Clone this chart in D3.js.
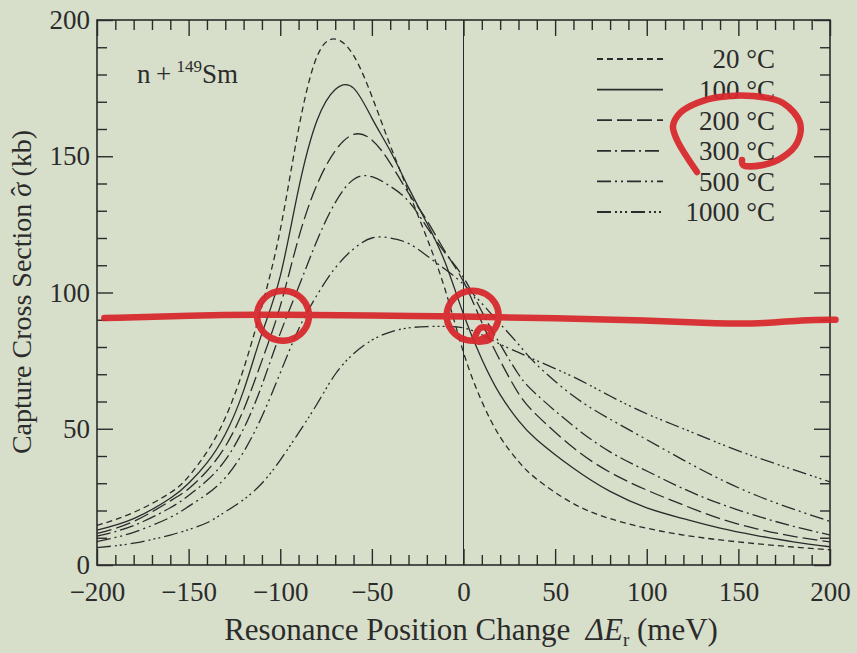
<!DOCTYPE html>
<html>
<head>
<meta charset="utf-8">
<script src="https://cdn.jsdelivr.net/npm/d3@7"></script>
<style>
body { margin: 0; background: #d7dfca; }
svg { display: block; font-family: "Liberation Serif", "Times New Roman", serif; }
</style>
</head>
<body>
<div id="chart"></div>
<script>
// resonance position change (meV)
var energies = [-200, -180, -160, -150, -140, -130, -120, -110, -100, -90, -80, -70, -60, -50, -40,
    -30, -20, -10, 0, 10, 20, 30, 40, 60, 80, 100, 120, 140, 160, 180, 200];
// capture cross section (kb), one array per temperature
var sigma20 = [14.5, 19.3, 26.5, 32.5, 41.5, 54, 72, 95, 123, 160, 186.5, 193, 187, 172, 154,
    137, 120, 101, 78, 60, 47, 38, 31.5, 22.5, 17, 13.5, 11, 9.2, 7.8, 6.6, 5.6];
var sigma100 = [12.8, 17, 24.5, 30, 37.5, 48, 64, 85, 106, 138, 163, 174.5, 175, 164, 152,
    138.5, 125.5, 111, 92, 75.5, 62.5, 53, 46, 35.5, 27, 21, 17, 13.5, 10.8, 8.5, 6.7];
var sigma200 = [11.6, 16, 23.5, 28, 34.5, 43.5, 57, 75, 95, 120, 139.5, 152, 158, 156, 147.5,
    136.5, 126.5, 115, 104, 89, 75, 63, 55, 43, 34, 27.5, 22, 17, 13.3, 10.5, 8.5];
var sigma300 = [10.6, 14.5, 21, 25.5, 31, 38.5, 50, 66, 85, 102, 119, 133, 141.5, 142.5, 139,
    133.5, 124, 114.5, 105.5, 93, 81, 70, 62.5, 51, 41.5, 34.5, 28, 22.5, 18, 14.2, 11];
var sigma500 = [8.6, 12, 17.5, 21.5, 26, 32, 41.5, 54.5, 70.5, 86.5, 99, 109, 116, 120, 120,
    118, 113.5, 108.5, 103, 96, 88.5, 81, 73.5, 62, 53.5, 46, 38.5, 31.5, 25.5, 20.5, 16];
var sigma1000 = [6.4, 8, 11, 13, 15.5, 19.5, 24, 30, 38.5, 48.5, 59, 70, 77.5, 82.5, 85.5,
    87, 87.5, 87.6, 87, 84.5, 81, 78, 75, 69, 62, 55.5, 50, 44.5, 39.5, 35, 30.5];
var seriesNames = ["20 \u00B0C", "100 \u00B0C", "200 \u00B0C", "300 \u00B0C", "500 \u00B0C", "1000 \u00B0C"];
var xTicks = d3.range(-200, 201, 10);
var yTicks = d3.range(0, 201, 10);
// red pen marks drawn over the figure (data coords)
var penLine = [[-196, 90.6], [-150, 91.6], [-100, 92], [-50, 91.5], [0, 91.2], [50, 90.6],
    [100, 89.8], [140, 88.5], [165, 88.6], [185, 90], [203, 90]];
var penRings = [[-98.5, 91.5], [5, 91.5]];

var width = 857, height = 653;
var margin = { left: 97, right: 27, top: 20, bottom: 88 };
var dashes = ["6,4", null, "15,5", "14,4,2,4", "14,4,2,4,2,4", "14,4,2,3,2,3,2,4"];
var ink = "#2b2b2b";

var series = [sigma20, sigma100, sigma200, sigma300, sigma500, sigma1000];

var x = d3.scaleLinear().domain([-200, 200]).range([margin.left, width - margin.right]);
var y = d3.scaleLinear().domain([0, 200]).range([height - margin.bottom, margin.top]);

var svg = d3.select("#chart").append("svg")
    .attr("width", width)
    .attr("height", height);

svg.append("rect").attr("width", width).attr("height", height).attr("fill", "#d7dfca");

// zero line
svg.append("line")
    .attr("x1", x(0)).attr("x2", x(0))
    .attr("y1", y(0)).attr("y2", y(200))
    .attr("stroke", ink).attr("stroke-width", 1);

// curves
var line = d3.line()
    .x(function (d, i) { return x(energies[i]); })
    .y(function (d) { return y(d); })
    .curve(d3.curveNatural);

svg.append("g").selectAll("path")
    .data(series)
    .enter()
    .append("path")
    .attr("d", line)
    .attr("fill", "none")
    .attr("stroke", ink)
    .attr("stroke-width", 1.3)
    .attr("stroke-dasharray", function (d, i) { return dashes[i]; });

// axes: ticks pointing inward on all four sides
function tickLen(v) { return v % 50 === 0 ? 16 : 10; }

function drawAxis(axis, vals, transform) {
    var g = svg.append("g").attr("transform", transform).call(axis.tickValues(vals).tickSize(0));
    g.select(".domain").remove();
    return g;
}

var axBottom = drawAxis(d3.axisBottom(x).tickPadding(17).tickFormat(function (d) { return d % 50 === 0 ? d3.format("")(d) : ""; }),
    xTicks, "translate(0," + y(0) + ")");
axBottom.selectAll(".tick line").attr("y2", function (d) { return -tickLen(d); });

var axTop = drawAxis(d3.axisTop(x).tickFormat(""), xTicks, "translate(0," + y(200) + ")");
axTop.selectAll(".tick line").attr("y2", function (d) { return tickLen(d); });

var axLeft = drawAxis(d3.axisLeft(y).tickPadding(7).tickFormat(function (d) { return d % 50 === 0 ? d : ""; }),
    yTicks, "translate(" + x(-200) + ",0)");
axLeft.selectAll(".tick line").attr("x2", function (d) { return tickLen(d); });

var axRight = drawAxis(d3.axisRight(y).tickFormat(""), yTicks, "translate(" + x(200) + ",0)");
axRight.selectAll(".tick line").attr("x2", function (d) { return -tickLen(d); });

svg.selectAll(".tick line").attr("stroke", ink).attr("stroke-width", 1.4);
svg.selectAll(".tick text").attr("fill", ink).attr("font-size", "27px")
    .attr("font-family", "Liberation Serif, serif");

svg.append("rect")
    .attr("x", x(-200)).attr("y", y(200))
    .attr("width", x(200) - x(-200)).attr("height", y(0) - y(200))
    .attr("fill", "none").attr("stroke", ink).attr("stroke-width", 1.6);

// legend
var legend = svg.append("g").selectAll("g")
    .data(seriesNames)
    .enter()
    .append("g")
    .attr("transform", function (d, i) { return "translate(0," + (59 + i * 30.6) + ")"; });

legend.append("line")
    .attr("x1", 597).attr("x2", 663)
    .attr("stroke", ink).attr("stroke-width", 1.8)
    .attr("stroke-dasharray", function (d, i) { return dashes[i]; });

legend.append("text")
    .attr("x", 775).attr("dy", "0.35em")
    .attr("text-anchor", "end")
    .attr("font-size", "27px")
    .attr("fill", ink)
    .text(function (d) { return d; });

// reaction label
var lab = svg.append("text").attr("x", 137).attr("y", 83).attr("font-size", "27px").attr("fill", ink);
lab.append("tspan").text("n\u2009+\u2009");
lab.append("tspan").attr("font-size", "17px").attr("dy", -11).text("149");
lab.append("tspan").attr("dy", 11).text("Sm");

// axis titles
var xt = svg.append("text")
    .attr("x", 471).attr("y", 640)
    .attr("text-anchor", "middle")
    .attr("font-size", "31px")
    .attr("fill", ink);
xt.append("tspan").text("Resonance Position Change\u2002");
xt.append("tspan").attr("font-style", "italic").text("\u0394E");
xt.append("tspan").attr("font-size", "19px").attr("dy", 6).text("r");
xt.append("tspan").attr("dy", -6).text(" (meV)");

var yt = svg.append("text")
    .attr("transform", "translate(31,292) rotate(-90)")
    .attr("text-anchor", "middle")
    .attr("font-size", "28px")
    .attr("fill", ink);
yt.append("tspan").text("Capture Cross Section ");
yt.append("tspan").attr("font-style", "italic").text("\u03C3");
yt.append("tspan").attr("dx", -13).attr("dy", -1).text("\u02C6");
yt.append("tspan").attr("dx", 3).attr("dy", 1).text(" (kb)");

// red pen marks
var pen = svg.append("g")
    .attr("fill", "none")
    .attr("stroke", "#d8262b")
    .attr("stroke-width", 6.5)
    .attr("stroke-linecap", "round")
    .attr("stroke-linejoin", "round")
    .attr("opacity", 0.93);

pen.append("path")
    .attr("d", d3.line().x(function (d) { return x(d[0]); }).y(function (d) { return y(d[1]); })
        .curve(d3.curveBasis)(penLine));

var ringLine = d3.line().curve(d3.curveCatmullRomClosed);
pen.selectAll(".ring")
    .data(penRings)
    .enter()
    .append("path")
    .attr("d", function (d) {
        var cx = x(d[0]), cy = y(d[1]);
        var pts = d3.range(0, 12).map(function (k) {
            var a = k / 12 * 2 * Math.PI;
            return [cx + 26 * Math.cos(a), cy + 25 * Math.sin(a)];
        });
        return ringLine(pts);
    });

// little hook under the second ring
var cx2 = x(penRings[1][0]), cy2 = y(penRings[1][1]);
pen.append("path")
    .attr("d", d3.line().curve(d3.curveCatmullRom)([
        [cx2 + 2, cy2 + 22], [cx2 + 8, cy2 + 12], [cx2 + 18, cy2 + 14], [cx2 + 17, cy2 + 24], [cx2 + 6, cy2 + 26]
    ]));

// loop round the 200/300 °C entries
pen.append("path")
    .attr("d", d3.line().curve(d3.curveCatmullRom)([
        [697, 172], [677, 140], [673, 126], [680, 113], [697, 103], [720, 97], [753, 96],
        [783, 103], [800, 123], [797, 143], [783, 157], [763, 165], [743, 165], [742, 160]
    ]));
</script>
</body>
</html>
